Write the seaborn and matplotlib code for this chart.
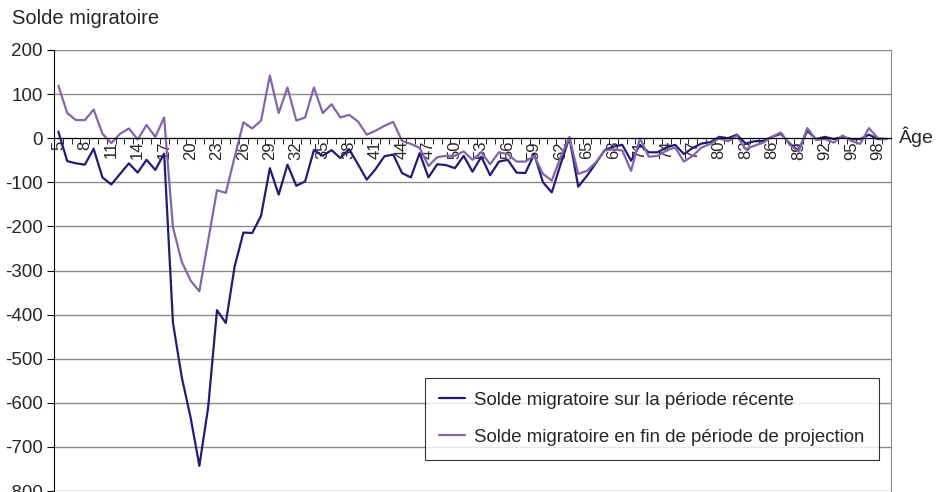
import numpy as np
import pandas as pd
import seaborn as sns
import matplotlib.pyplot as plt

ages = list(range(5, 100))

# solde migratoire sur la periode recente
recent = [15, -52, -57, -60, -24, -89, -105, -81, -57, -78, -49, -72, -35,
          -418, -542, -633, -743, -610, -390, -419, -291, -214, -215, -176, -68, -128, -60,
          -108, -98, -27, -40, -27, -45, -25, -59, -94, -70, -41, -37, -79, -89, -34, -89,
          -59, -61, -68, -40, -76, -42, -84, -53, -49, -78, -79, -36, -100, -123, -59, 2,
          -110, -85, -57, -27, -19, -15, -51, -15, -32, -32, -21, -15, -36, -22, -12, -9,
          3, 0, 8, -12, -7, -6, 3, 10, -12, -28, 17, -2, 3, -2, 3, -2, -2, 8, -2, -2]

# solde migratoire en fin de periode de projection
projection = [119, 57, 41, 41, 65, 10, -11, 10, 22, -3, 30, 3, 47,
              -202, -280, -323, -347, -232, -118, -124, -43, 36, 22, 40, 142, 57, 115,
              40, 47, 115, 57, 77, 47, 53, 38, 8, 17, 28, 37, -6, -13, -22, -63,
              -43, -40, -40, -30, -49, -32, -59, -32, -36, -53, -53, -40, -81, -96, -43, 2,
              -81, -74, -55, -28, -25, -28, -74, 0, -42, -40, -28, -21, -53, -40, -21, -13,
              0, -7, 6, -25, -17, -10, 3, 13, -15, -30, 23, -4, -2, -10, 6, -6, -13, 23, 0, -2]

lab_recent = "Solde migratoire sur la période récente"
lab_proj = "Solde migratoire en fin de période de projection"

df = pd.DataFrame({"age": ages, "recent": recent, "proj": projection})

sns.set_style("white")
plt.rcParams["font.family"] = ["Liberation Sans", "DejaVu Sans"]
plt.rcParams["axes.unicode_minus"] = False

fig = plt.figure(figsize=(9.36, 4.92), dpi=100)
ax = fig.add_axes([54 / 936, 1 - 491 / 492, 837 / 936, 441 / 492])

sns.lineplot(data=df, x="age", y="recent", ax=ax, color="#231c74", lw=1.6, label=lab_recent)
sns.lineplot(data=df, x="age", y="proj", ax=ax, color="#8466a8", lw=1.6, label=lab_proj)

ax.set_xlim(4.5, 99.5)
ax.set_ylim(-800, 200)
ax.set_yticks(np.arange(-800, 201, 100))
ax.yaxis.grid(True, color="#8a8a8a", lw=1)
ax.set_axisbelow(True)
ax.tick_params(axis="y", labelsize=13.5, length=5, direction="out", left=True,
               color="black", pad=3)

# x axis crossing at 0
ax.spines["bottom"].set_position(("data", 0))
ax.spines["bottom"].set_color("black")
ax.spines["left"].set_color("black")
ax.spines["top"].set_visible(False)
ax.spines["right"].set_color("#8a8a8a")
ax.set_xticks(ages[::3])
ax.set_xticklabels([str(a) for a in ages[::3]], rotation=90, fontsize=12)
ax.set_xticks(np.arange(4.5, 100, 1), minor=True)
ax.tick_params(axis="x", which="major", length=0, pad=2)
ax.tick_params(axis="x", which="minor", length=4, direction="out", bottom=True, color="black")
ax.set_xlabel("")
ax.set_ylabel("")

fig.text(12 / 936, 1 - 19 / 492, "Solde migratoire", fontsize=14.5, va="center", ha="left")
fig.text(899 / 936, 1 - 137 / 492, "Âge", fontsize=14, va="center", ha="left")

leg = ax.legend(loc="upper left", bbox_to_anchor=(425 / 936, 1 - 378 / 492),
                bbox_transform=fig.transFigure, fontsize=13.4, frameon=True, fancybox=False,
                edgecolor="black", handlelength=1.4, labelspacing=1.05,
                borderpad=0.75, handletextpad=0.5, borderaxespad=0)
leg.get_frame().set_linewidth(0.8)

fig.savefig("out.png", dpi=100)
